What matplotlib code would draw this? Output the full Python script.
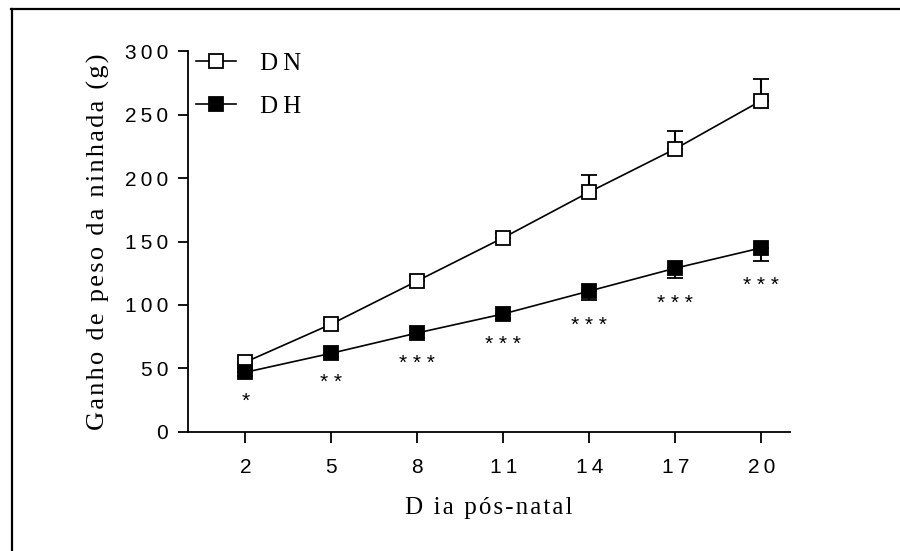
import matplotlib
matplotlib.use("Agg")
import matplotlib.pyplot as plt
from matplotlib.lines import Line2D

# data
days = [2, 5, 8, 11, 14, 17, 20]
dn_mean = [55, 85, 119, 153, 189, 223, 261]
dn_err = [3, 3, 4, 4, 13, 14, 17]
dh_mean = [47, 62, 78, 93, 111, 129, 145]
dh_err = [3, 3, 4, 4, 7, 8, 10]
stars = ["*", "**", "***", "***", "***", "***", "***"]
y_ticks = [0, 50, 100, 150, 200, 250, 300]

SANS = ["Liberation Sans", "DejaVu Sans"]
SERIF = ["Liberation Serif", "DejaVu Serif"]


def spaced(s, sep="\u2009"):
    # fake letter spacing, the reference text is tracked out
    return sep.join(s)


fig = plt.figure(figsize=(9, 5.51), dpi=100)
ax = fig.add_axes([0.2089, 0.2160, 0.6689, 0.6914])

# frame lines of the original figure (top and left only)
fig.add_artist(Line2D([0.0125, 1.0], [0.983, 0.983], transform=fig.transFigure, color="black", lw=1.6))
fig.add_artist(Line2D([0.0131, 0.0131], [0.0, 0.983], transform=fig.transFigure, color="black", lw=1.6))

lw = 1.2
ms = 10

# DN: open squares, upper error only
ax.errorbar(days, dn_mean, yerr=[[0] * len(dn_err), dn_err], color="black", lw=lw,
            marker="s", ms=ms, mfc="white", mec="black", mew=1.3,
            capsize=5.5, capthick=1.5, elinewidth=1.5, zorder=3)
# DH: filled squares, lower error only
ax.errorbar(days, dh_mean, yerr=[dh_err, [0] * len(dh_err)], color="black", lw=lw,
            marker="s", ms=ms, mfc="black", mec="black", mew=1.3,
            capsize=5.5, capthick=1.5, elinewidth=1.5, zorder=3)

# significance marks sit under the DH error bars
for d, m, e, s in zip(days, dh_mean, dh_err, stars):
    ax.text(d, m - e - 20, " ".join(s), ha="center", va="center",
            fontsize=15, family=SANS)

ax.set_xlim(0, 21)
ax.set_ylim(0, 300)
ax.set_xticks(days)
ax.set_xticklabels([spaced(str(d)) for d in days], family=SANS, fontsize=15)
ax.set_yticks(y_ticks)
ax.set_yticklabels([spaced(str(v)) for v in y_ticks], family=SANS, fontsize=15)

for side in ["top", "right"]:
    ax.spines[side].set_visible(False)
for side in ["left", "bottom"]:
    ax.spines[side].set_linewidth(1.3)
ax.tick_params(axis="y", length=7.2, width=1.3, pad=7)
ax.tick_params(axis="x", length=8, width=1.3, pad=11)

ax.set_ylabel(spaced("Ganho de peso da ninhada (g)", "\u200a"), family=SERIF, fontsize=19)
ax.yaxis.set_label_coords(-0.13, 0.5)
ax.set_xlabel(spaced("D ia pós-natal", "\u200a"), family=SERIF, fontsize=18)
ax.xaxis.set_label_coords(0.5, -0.17)

handles = [
    Line2D([], [], color="black", lw=lw, marker="s", ms=ms, mfc="white", mec="black", mew=1.3),
    Line2D([], [], color="black", lw=lw, marker="s", ms=ms, mfc="black", mec="black", mew=1.3),
]
ax.legend(handles, [spaced("DN"), spaced("DH")], loc="upper left",
          bbox_to_anchor=(0.0133, 0.997), frameon=False, borderpad=0, borderaxespad=0,
          handlelength=1.6, handletextpad=0.96, labelspacing=0.82,
          prop={"family": SERIF, "size": 18})

fig.savefig("out.png", dpi=100)
